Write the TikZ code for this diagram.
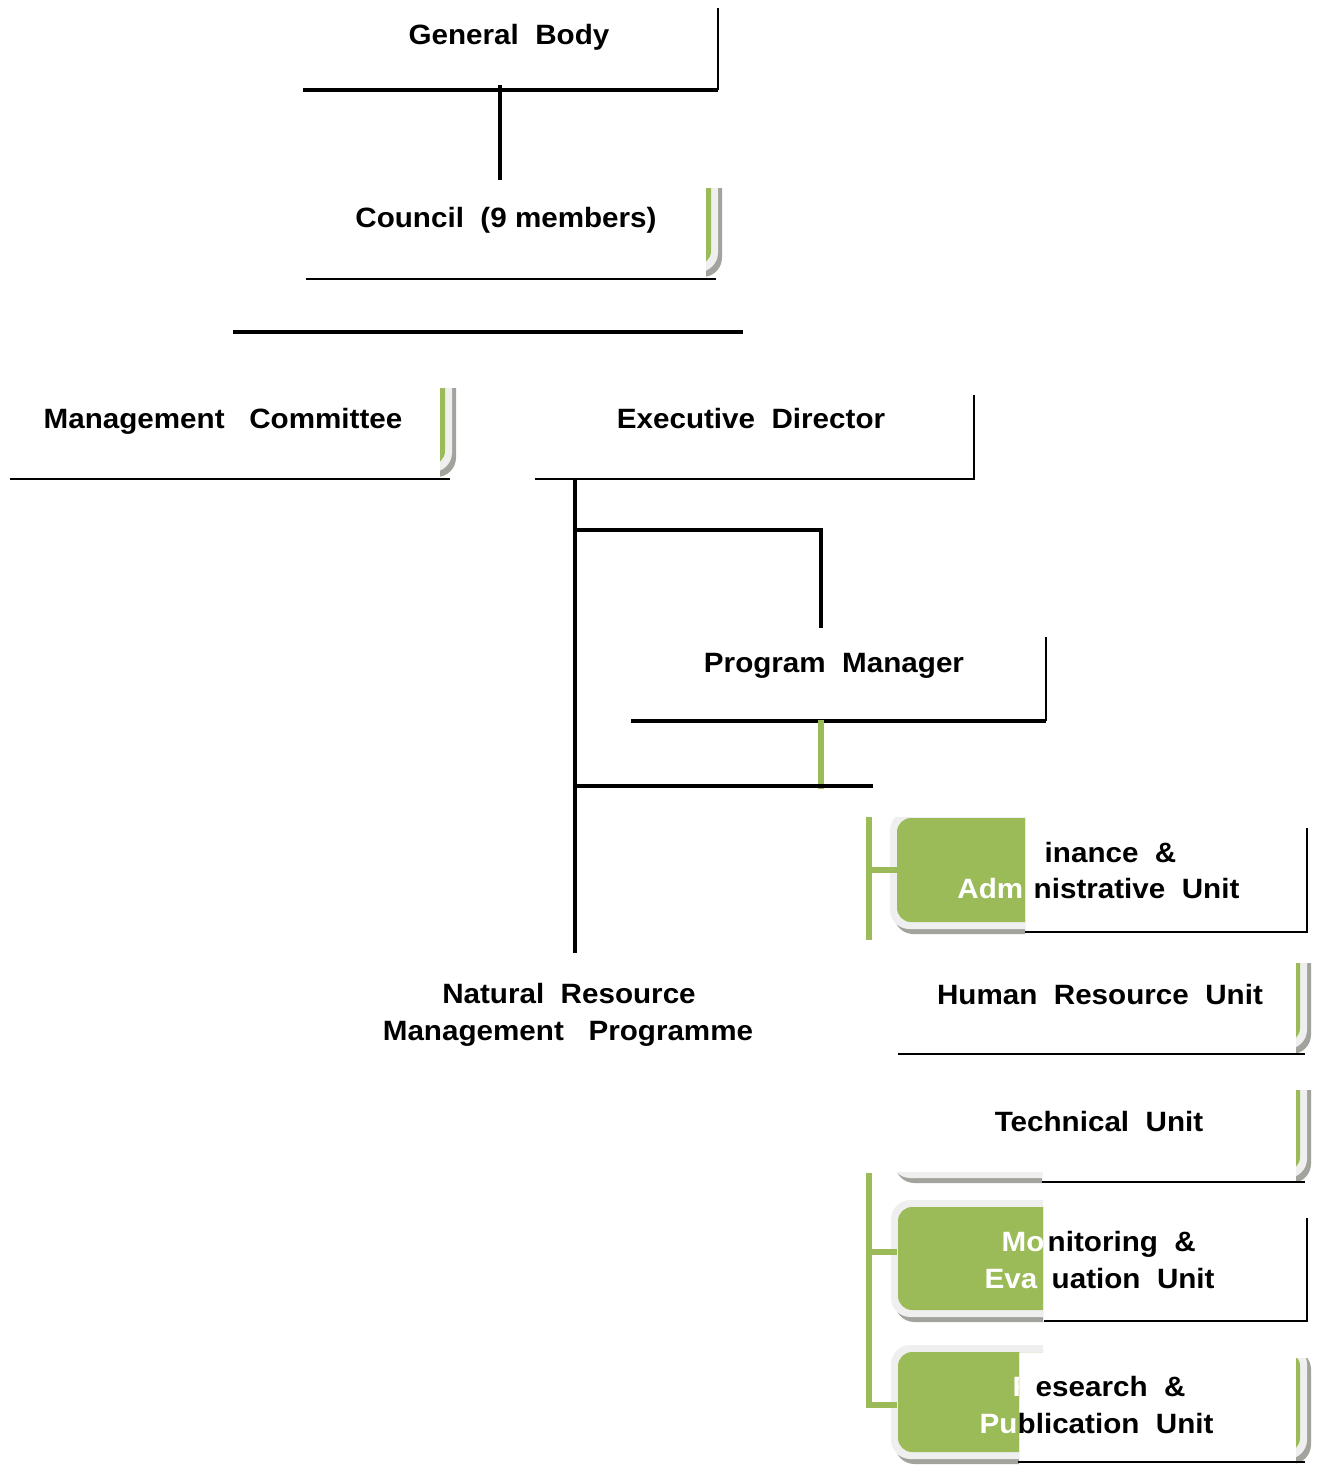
\documentclass[tikz,border=0pt]{standalone}
\usepackage{fontspec}
\setmainfont{Liberation Sans}[FakeStretch=1.06]
\usetikzlibrary{positioning, calc}
\definecolor{mGreen}{HTML}{9BBB59}
\definecolor{mFrame}{HTML}{EFEFEF}
\definecolor{mShadow}{HTML}{A3A39D}

\newcommand{\greenbox}[4]{%
  \fill[mShadow, rounded corners=5.5pt] (#1-3,#2-2) rectangle (#3+11,#4+12);
  \fill[mFrame, rounded corners=5.5pt] (#1-7,#2-7) rectangle (#3+7,#4+7);
  \fill[mGreen, rounded corners=4pt] (#1,#2) rectangle (#3,#4);}

\begin{document}
\begin{tikzpicture}[x=0.1mm, y=-0.1mm,
    lbl/.style={font=\bfseries\fontsize{7.95}{9.5}\selectfont, anchor=base, inner sep=0pt},
    wlbl/.style={lbl, text=white},
    edge/.style={line width=0.55pt},
    bar/.style={line width=1.15pt},
    gbar/.style={line width=1.6pt, mGreen}
]
    \useasboundingbox (0,0) rectangle (1317,1465);

    \begin{scope}
        \clip (706,188) rectangle (730,290);
        \greenbox{600}{100}{711}{265}
    \end{scope}
    \begin{scope}
        \clip (440,388) rectangle (465,490);
        \greenbox{300}{300}{445}{465}
    \end{scope}
    \begin{scope}
        \clip (880,817) rectangle (1025,945);
        \greenbox{897}{818}{1300}{922}
    \end{scope}
    \begin{scope}
        \clip (1296,963) rectangle (1317,1060);
        \greenbox{1100}{900}{1300}{1042}
    \end{scope}
    \begin{scope}
        \clip (1296,1090) rectangle (1317,1195) (880,1172) rectangle (1042,1195);
        \greenbox{898}{1000}{1300}{1171}
    \end{scope}
    \begin{scope}
        \clip (880,1190) rectangle (1043,1335);
        \greenbox{898}{1207}{1300}{1310}
    \end{scope}
    \begin{scope}
        \clip (880,1340) -- (1043,1340) -- (1043,1352) -- (1019,1352)
            -- (1019,1470) -- (880,1470) -- cycle (1296,1358) rectangle (1317,1470);
        \greenbox{898}{1352}{1300}{1452}
    \end{scope}

    \draw[edge] (718,8) -- (718,90);
    \draw[bar] (303,90) -- (718,90);
    \draw[edge] (306,279) -- (716,279);
    \draw[edge] (10,479) -- (450,479);
    \draw[edge] (974,395) -- (974,479) -- (535,479);
    \draw[edge] (1046,637) -- (1046,721);
    \draw[bar] (631,721) -- (1046,721);
    \draw[edge] (1307,828) -- (1307,932) -- (1025,932);
    \draw[edge] (898,1054) -- (1305,1054);
    \draw[edge] (1042,1182) -- (1305,1182);
    \draw[edge] (1307,1218) -- (1307,1321) -- (1044,1321);
    \draw[edge] (1018,1462) -- (1305,1462);

    \node[lbl] (gb) at (509,45) {General~~Body};
    \node[lbl] (cn) at (506,227) {Council~~(9~members)};
    \node[lbl] (mc) at (223,428) {Management~~~Committee};
    \node[lbl] (ed) at (751,428) {Executive~~Director};
    \node[lbl] (pm) at (834,672) {Program~~Manager};
    \node[lbl] (nr) at (569,1003) {Natural~~Resource};
    \node[lbl] (nr2) at (568,1040) {Management~~~Programme};
    \node[lbl] (hr) at (1100,1004) {Human~~Resource~~Unit};
    \node[lbl] (tu) at (1099,1131) {Technical~~Unit};
    \node[lbl, anchor=base west] (fa) at (1044,862) {inance~~\&};
    \node[wlbl, anchor=base east] (fa2w) at (1024,898) {Adm};
    \node[lbl, anchor=base west] (fa2) at (1033,898) {nistrative~~Unit};
    \node[wlbl, anchor=base west] (mew) at (1001,1251) {Mo};
    \node[lbl, anchor=base west] (me) at (1047,1251) {nitoring~~\&};
    \node[wlbl, anchor=base west] (me2w) at (984,1288) {Eva};
    \node[lbl, anchor=base west] (me2) at (1051,1288) {uation~~Unit};
    \begin{scope}
        \clip (1000,1360) rectangle (1018,1410);
        \node[wlbl, anchor=base west] (rpw) at (1012,1396) {R};
    \end{scope}
    \node[lbl, anchor=base west] (rp) at (1035,1396) {esearch~~\&};
    \node[wlbl, anchor=base west] (rp2w) at (979,1433) {Pu};
    \node[lbl, anchor=base west] (rp2) at (1017,1433) {blication~~Unit};

    \coordinate (gbStem) at (500,85);
    \coordinate (cnTop) at (500,180);
    \coordinate (busL) at (233,332);
    \coordinate (busR) at (743,332);
    \coordinate (edFoot) at (575,479);
    \coordinate (trunkEnd) at (575,953);
    \coordinate (pmJoin) at (575,530);
    \coordinate (pmTop) at (821,628);
    \coordinate (pmFoot) at (821,720);
    \coordinate (pmLink) at (821,789);
    \coordinate (unitJoin) at (575,786);
    \coordinate (unitEnd) at (873,786);
    \coordinate (brA) at (869,817);
    \coordinate (brAend) at (869,940);
    \coordinate (faTick) at (897,870);
    \coordinate (brB) at (869,1173);
    \coordinate (meTick) at (897,1252);
    \coordinate (rpTick) at (897,1405);

    \draw[bar] (gbStem) -- (cnTop);
    \draw[bar] (busL) -- (busR);
    \draw[bar] (edFoot) -- (trunkEnd);
    \draw[bar] (pmJoin) -| (pmTop);
    \draw[gbar] (pmFoot) -- (pmLink);
    \draw[bar] (unitJoin) -- (unitEnd);
    \draw[gbar] (brA) -- (brAend);
    \draw[gbar] (faTick) -- (faTick -| brA);
    \draw[gbar] (brB) |- (rpTick);
    \draw[gbar] (meTick) -- (meTick -| brB);
\end{tikzpicture}
\end{document}
